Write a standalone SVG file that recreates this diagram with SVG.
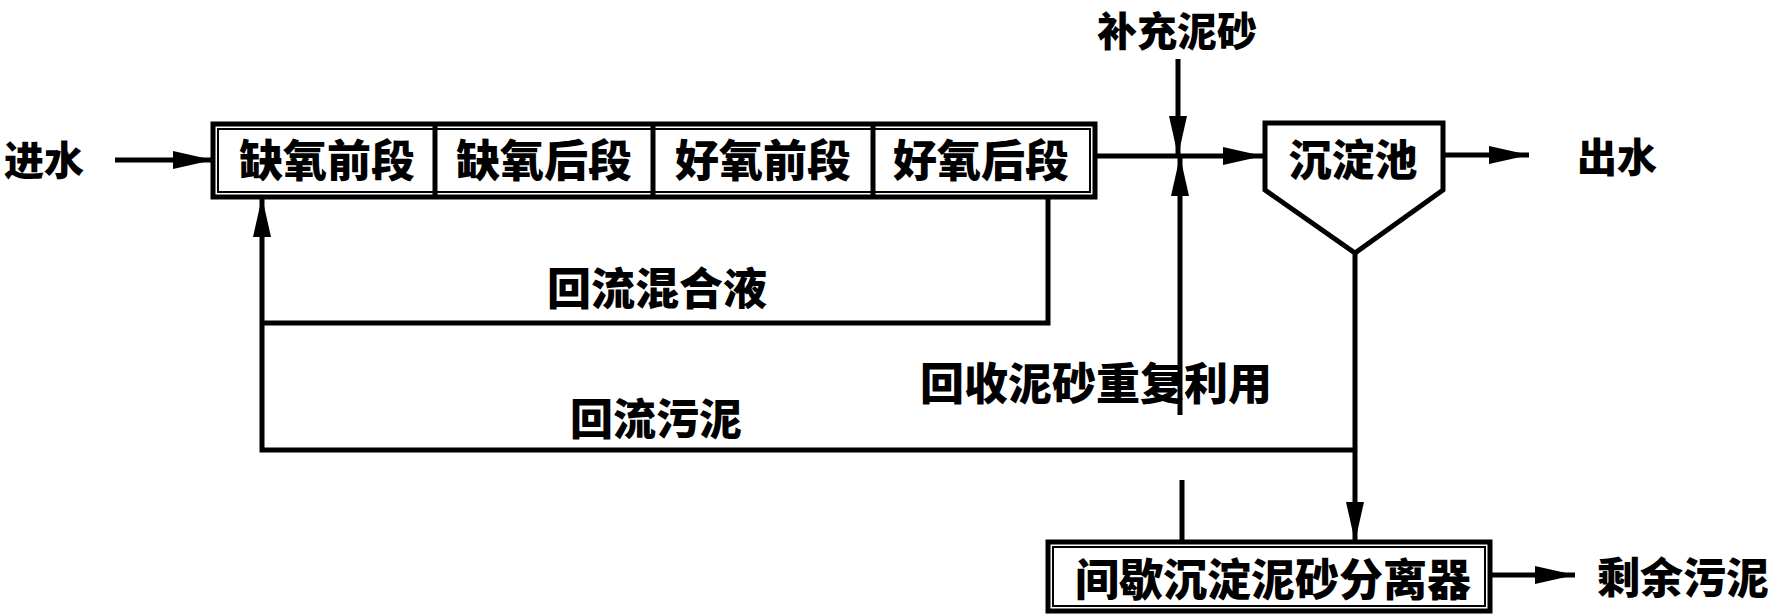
<svg xmlns="http://www.w3.org/2000/svg" width="1770" height="614" viewBox="0 0 1770 614">
<style>
.t{font-family:"Noto Sans CJK SC","Noto Sans CJK TC",sans-serif;font-weight:900;fill:#000;dominant-baseline:central}
.c{text-anchor:middle}
.box{fill:none;stroke:#000;stroke-width:5}
.inner{fill:none;stroke:#000;stroke-width:2}
.ln{fill:none;stroke:#000;stroke-width:5;stroke-linejoin:miter}
.arr{marker-end:url(#ah)}
</style>
<defs>
<marker id="ah" markerUnits="userSpaceOnUse" markerWidth="40" markerHeight="18" refX="40" refY="9" orient="auto">
<path d="M0,0 L40,9 L0,18 Z" fill="#000"/>
</marker>
</defs>
<rect width="1770" height="614" fill="#fff"/>

<g id="connectors">
<line class="ln arr" x1="115" y1="160" x2="213" y2="160"/>
<line class="ln arr" x1="1095" y1="156" x2="1263" y2="156"/>
<line class="ln arr" x1="1178" y1="59" x2="1178" y2="156"/>
<line class="ln arr" x1="1180" y1="415" x2="1180" y2="156"/>
<line class="ln" x1="1182" y1="480" x2="1182" y2="542"/>
<line class="ln arr" x1="1443" y1="155" x2="1529" y2="155"/>
<line class="ln arr" x1="1355" y1="253" x2="1355" y2="542"/>
<polyline class="ln arr" points="1355,450 262,450 262,197"/>
<polyline class="ln" points="1048,197 1048,323 262,323"/>
<line class="ln arr" x1="1490" y1="575" x2="1575" y2="575"/>
</g>

<g id="input">
<text class="t" x="4" y="158" font-size="40">进水</text>
</g>

<g id="reactor">
<rect class="box" x="213" y="124" width="882" height="73"/>
<rect class="inner" x="218" y="129" width="872" height="63"/>
<line class="ln" x1="435" y1="124" x2="435" y2="197"/>
<line class="ln" x1="653" y1="124" x2="653" y2="197"/>
<line class="ln" x1="873" y1="124" x2="873" y2="197"/>
</g>
<g id="anoxic1"><text class="t c" x="327" y="158" font-size="44">缺氧前段</text></g>
<g id="anoxic2"><text class="t c" x="544" y="158" font-size="44">缺氧后段</text></g>
<g id="aerobic1"><text class="t c" x="763" y="158" font-size="44">好氧前段</text></g>
<g id="aerobic2"><text class="t c" x="981" y="158" font-size="44">好氧后段</text></g>

<g id="supply">
<text class="t c" x="1177" y="29" font-size="40">补充泥砂</text>
</g>

<g id="clarifier">
<polygon class="box" points="1265,123 1443,123 1443,190 1355,253 1265,190"/>
<text class="t c" x="1353" y="157" font-size="43">沉淀池</text>
</g>

<g id="effluent">
<text class="t" x="1577" y="155" font-size="40">出水</text>
</g>

<g id="labels">
<text class="t" x="547" y="286" font-size="44">回流混合液</text>
<text class="t" x="920" y="381" font-size="44">回收泥砂重复利用</text>
<text class="t" x="570" y="416" font-size="43">回流污泥</text>
</g>

<g id="separator">
<rect class="box" x="1048" y="542" width="442" height="69"/>
<rect class="inner" x="1053" y="547" width="432" height="59"/>
<text class="t" x="1075" y="577" font-size="44">间歇沉淀泥砂分离器</text>
</g>

<g id="excess">
<text class="t" x="1597" y="575" font-size="43">剩余污泥</text>
</g>
</svg>
